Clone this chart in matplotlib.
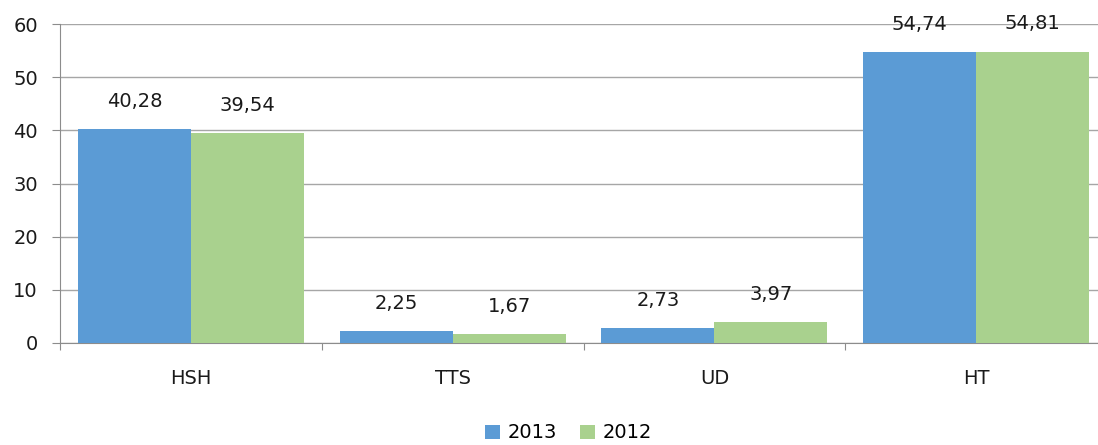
import matplotlib.pyplot as plt
import numpy as np

categories = ['HSH', 'TTS', 'UD', 'HT']
values_2013 = [40.28, 2.25, 2.73, 54.74]
values_2012 = [39.54, 1.67, 3.97, 54.81]
series_names = ['2013', '2012']
colors = ['#5B9BD5', '#A9D18E']

plt.rcParams['font.family'] = ['DejaVu Sans']

fig = plt.figure(figsize=(10.98, 4.45), dpi=100)
ax = fig.add_axes([60 / 1098, 102 / 445, 1047 / 1098, 319 / 445])

x = np.arange(len(categories))
w = 0.432

b1 = ax.bar(x - w / 2, values_2013, w, color=colors[0], label=series_names[0], zorder=3)
b2 = ax.bar(x + w / 2, values_2012, w, color=colors[1], label=series_names[1], zorder=3)

def fmt(v):
    return f'{v:.2f}'.replace('.', ',')

for bars, vals in [(b1, values_2013), (b2, values_2012)]:
    for rect, v in zip(bars, vals):
        ax.annotate(fmt(v), (rect.get_x() + rect.get_width() / 2, v),
                    xytext=(0, 20), textcoords='offset points',
                    ha='center', va='center', fontsize=14, color='#1a1a1a')

ax.set_xlim(-0.5, 3.5)
ax.set_ylim(0, 60)
ax.set_yticks(range(0, 61, 10))
ax.yaxis.grid(True, color='#A6A6A6', linewidth=1, zorder=0)

ax.set_xticks([-0.5, 0.5, 1.5, 2.5, 3.5])
ax.set_xticklabels([])
ax.set_xticks(x, minor=True)
ax.set_xticklabels(categories, minor=True)
ax.tick_params(axis='x', which='major', length=5, color='#8C8C8C', direction='out')
ax.tick_params(axis='x', which='minor', length=0, pad=19, labelsize=14, labelcolor='#1a1a1a')
ax.tick_params(axis='y', length=6, pad=10, color='#8C8C8C', labelsize=14, labelcolor='#1a1a1a')

for s in ['top', 'right']:
    ax.spines[s].set_visible(False)
for s in ['left', 'bottom']:
    ax.spines[s].set_color('#8C8C8C')

fig.legend(handles=[b1, b2], loc='center', bbox_to_anchor=(0.518, 0.027), ncol=2,
           frameon=False, fontsize=14, handlelength=0.75, handleheight=0.75,
           handletextpad=0.4, columnspacing=1.2)

plt.savefig('out.png', dpi=100)
plt.close()
